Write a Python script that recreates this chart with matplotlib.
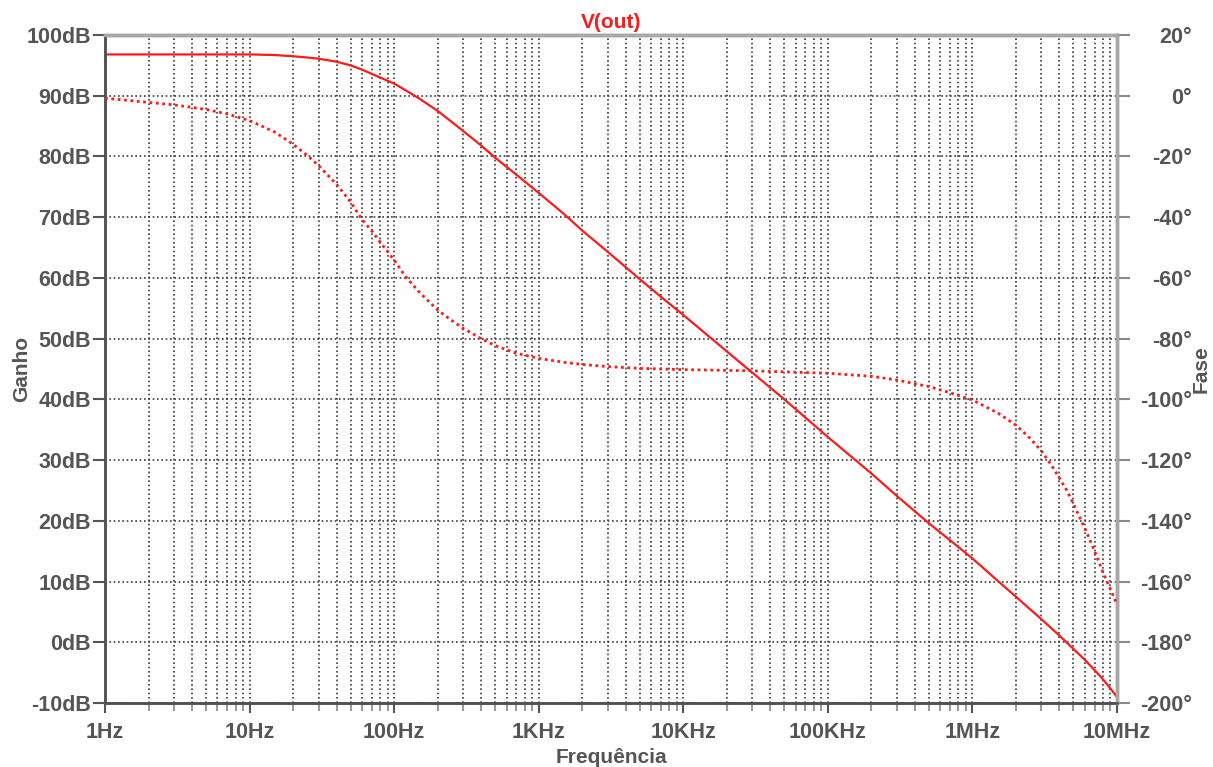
import matplotlib
matplotlib.use("Agg")
import matplotlib.pyplot as plt
from matplotlib.ticker import FixedLocator, LogLocator, NullFormatter

# gain trace (solid): frequency in Hz, gain in dB
gain_freq = [1, 3, 10, 15, 20, 25, 30, 40, 50, 60, 70, 80, 100, 120, 150,
             200, 250, 300, 400, 500, 700, 1e3, 1.5e3, 2e3, 3e3, 5e3, 7e3,
             1e4, 2e4, 3e4, 5e4, 7e4, 1e5, 2e5, 3e5, 5e5, 7e5, 1e6, 1.5e6,
             2e6, 3e6, 4e6, 5e6, 6e6, 7e6, 8e6, 9e6, 1e7]
gain_db = [96.8, 96.8, 96.8, 96.7, 96.5, 96.3, 96.1, 95.6, 95.0, 94.3, 93.6,
           93.0, 92.0, 90.9, 89.5, 87.5, 85.7, 84.2, 81.8, 79.8, 77.0, 74.0,
           70.5, 67.8, 64.3, 59.8, 56.9, 53.9, 47.9, 44.4, 40.0, 37.0, 33.8,
           27.8, 24.1, 19.6, 16.8, 13.8, 10.1, 7.5, 3.8, 1.1, -1.1, -2.9,
           -4.6, -6.1, -7.6, -9.0]

# phase trace (dotted): frequency in Hz, phase in degrees
phase_freq = [1, 2, 3, 5, 7, 10, 15, 20, 25, 30, 40, 50, 60, 70, 80, 100,
              120, 150, 200, 250, 300, 400, 500, 700, 1e3, 1.5e3, 2e3, 3e3,
              5e3, 1e4, 3e4, 1e5, 2e5, 3e5, 5e5, 7e5, 1e6, 1.5e6, 2e6, 2.5e6,
              3e6, 3.5e6, 4e6, 4.5e6, 5e6, 6e6, 7e6, 8e6, 9e6, 1e7]
phase_deg = [-0.8, -2.2, -3.0, -4.5, -6.0, -8.2, -12.0, -16.0, -19.6, -23.0,
             -29.2, -35.0, -40.8, -44.5, -48.2, -54.1, -59.6, -64.8, -70.6,
             -74.0, -76.6, -80.0, -82.3, -84.8, -86.5, -87.8, -88.5, -89.2,
             -89.8, -90.2, -90.6, -91.4, -92.4, -93.6, -95.8, -97.8, -100.2,
             -104.5, -108.5, -112.8, -117.0, -121.5, -126.0, -130.0, -134.5,
             -142.5, -150.0, -157.0, -162.5, -167.5]

x_ticks = [1, 10, 100, 1e3, 1e4, 1e5, 1e6, 1e7]
x_labels = ["1Hz", "10Hz", "100Hz", "1KHz", "10KHz", "100KHz", "1MHz", "10MHz"]
gain_ticks = list(range(-10, 101, 10))
phase_ticks = list(range(-200, 21, 20))

TXT = "#555555"
GRID = "#3c3c3c"
RED = "#ff1a1a"

plt.rcParams['font.family'] = ['Liberation Sans', 'DejaVu Sans']

fig = plt.figure(figsize=(12.13, 7.67), dpi=100)
ax = fig.add_axes([105 / 1213, 1 - 703 / 767, 1012 / 1213, 668 / 767])
ax2 = ax.twinx()

ax.set_xscale("log")
ax.set_xlim(1, 1e7)
ax.set_ylim(-10, 100)
ax2.set_ylim(-200, 20)

ax.plot(gain_freq, gain_db, color=RED, lw=1.6, zorder=5)
ax2.plot(phase_freq, phase_deg, color=RED, lw=2.0, linestyle=(0, (1, 1.3)),
         zorder=5)

# ticks and grid
ax.xaxis.set_major_locator(FixedLocator(x_ticks))
ax.xaxis.set_minor_locator(LogLocator(base=10, subs=range(2, 10), numticks=20))
ax.xaxis.set_minor_formatter(NullFormatter())
ax.set_xticklabels(x_labels)
ax.set_yticks(gain_ticks)
ax.set_yticklabels([f"{v}dB" for v in gain_ticks])
ax2.set_yticks(phase_ticks)
ax2.set_yticklabels([f"{v}°" for v in phase_ticks])

ax.grid(True, which="both", axis="x", color=GRID, lw=1.2, linestyle=(0, (1, 1.6)))
ax.grid(True, which="major", axis="y", color=GRID, lw=1.2, linestyle=(0, (1, 1.6)))

fs = 15.5
ax.tick_params(axis="y", direction="out", length=9, width=1.5, color=TXT,
               labelsize=fs, labelcolor=TXT, pad=1)
ax.tick_params(axis="x", which="major", direction="out", length=7, width=1.5,
               color=TXT, labelsize=fs, labelcolor=TXT, pad=7)
ax.tick_params(axis="x", which="minor", direction="out", length=6, width=1.5,
               color="#9a9a9a")
ax2.tick_params(axis="y", direction="out", length=9, width=1.5, color="#8a8a8a",
                labelsize=fs, labelcolor=TXT, pad=45)
for lbl in ax.get_xticklabels() + ax.get_yticklabels() + ax2.get_yticklabels():
    lbl.set_fontweight("bold")
for lbl in ax2.get_yticklabels():
    lbl.set_horizontalalignment("right")

for a in (ax, ax2):
    a.spines["left"].set_color("#505050")
    a.spines["left"].set_linewidth(1.8)
    a.spines["bottom"].set_color("#505050")
    a.spines["bottom"].set_linewidth(1.8)
    a.spines["top"].set_color("#a8a8a8")
    a.spines["top"].set_linewidth(2.5)
    a.spines["right"].set_color("#a8a8a8")
    a.spines["right"].set_linewidth(2.5)

ax.set_title("V(out)", color=RED, fontsize=15, fontweight="bold", pad=5)
ax.set_ylabel("Ganho", color=TXT, fontsize=15, fontweight="bold", va="center")
ax.yaxis.set_label_coords(-83 / 1012, 0.5)
ax2.set_ylabel("Fase", color=TXT, fontsize=15, fontweight="bold",
               rotation=90, va="center")
ax2.yaxis.set_label_coords(1 + 84 / 1012, 0.5)
ax.set_xlabel("Frequência", color=TXT, fontsize=15, fontweight="bold", labelpad=3)

fig.savefig("out.png", dpi=100)
